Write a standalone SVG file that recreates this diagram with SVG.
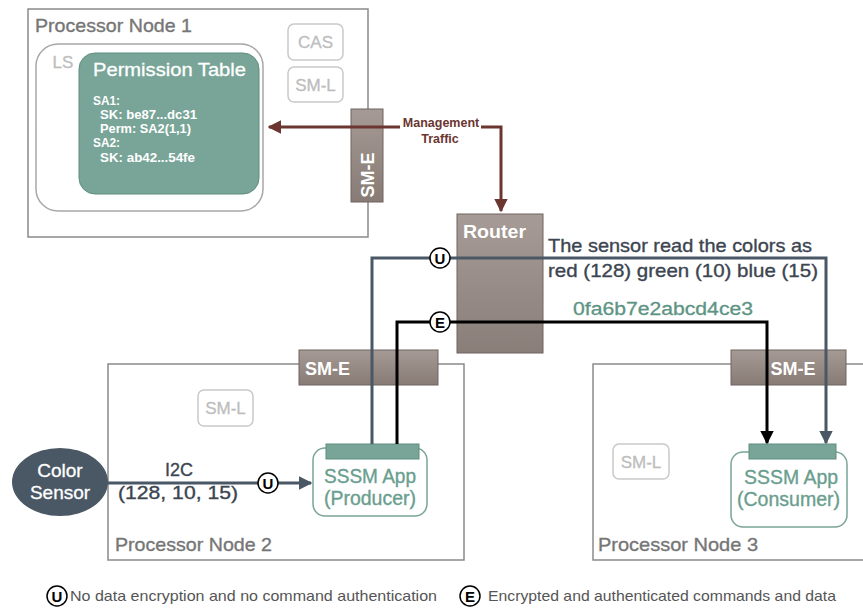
<svg xmlns="http://www.w3.org/2000/svg" width="863" height="609" viewBox="0 0 863 609">
<defs>
<style>
text{font-family:"Liberation Sans","Open Sans",Arial,sans-serif}
.node{fill:#fff;stroke:#8a8a8a;stroke-width:1.5}
.ntitle{font-size:19px;fill:#767676;stroke:#767676;stroke-width:0.35}
.ghost{fill:#fff;stroke:#c9c9c9;stroke-width:1.5}
.gtext{font-size:17px;fill:#bdbdbd;text-anchor:middle;stroke:#bdbdbd;stroke-width:0.3}
.sme{fill:url(#gBrown);stroke:#6f6460;stroke-width:1}
.smetext{font-size:18px;fill:#fff;font-weight:bold}
.app{fill:#fff;stroke:#7aa597;stroke-width:1.5}
.bar{fill:#78a598;stroke:#5f8d7f;stroke-width:1}
.apptext{font-size:20px;fill:#6a9e8e;stroke:#6a9e8e;stroke-width:0.35}
.uline{fill:none;stroke:#4a5765;stroke-width:3}
.eline{fill:none;stroke:#000;stroke-width:3}
.mline{fill:none;stroke:#6b3630;stroke-width:3}
.badge{fill:#fff;stroke:#000;stroke-width:1.5}
.btext{font-size:15px;font-weight:bold;fill:#000;text-anchor:middle}
.pt{font-size:12.5px;font-weight:bold;fill:#fff}
.dark{font-size:19px;fill:#3c4550;stroke:#3c4550;stroke-width:0.35}
.leg{font-size:15px;fill:#555}
</style>
<linearGradient id="gBrown" x1="0" y1="0" x2="0" y2="1">
<stop offset="0" stop-color="#a59a95"/>
<stop offset="1" stop-color="#887b75"/>
</linearGradient>
<linearGradient id="gRouter" x1="0" y1="0" x2="0" y2="1">
<stop offset="0" stop-color="#a69b96"/>
<stop offset="1" stop-color="#8a7e79"/>
</linearGradient>
<marker id="aU" viewBox="0 0 10 10" refX="9" refY="5" markerWidth="4.5" markerHeight="4.5" orient="auto" markerUnits="strokeWidth">
<path d="M0,0 L10,5 L0,10 Z" fill="#4a5765"/>
</marker>
<marker id="aE" viewBox="0 0 10 10" refX="9" refY="5" markerWidth="4.5" markerHeight="4.5" orient="auto" markerUnits="strokeWidth">
<path d="M0,0 L10,5 L0,10 Z" fill="#000"/>
</marker>
<marker id="aM" viewBox="0 0 10 10" refX="9" refY="5" markerWidth="4.5" markerHeight="4.5" orient="auto" markerUnits="strokeWidth">
<path d="M0,0 L10,5 L0,10 Z" fill="#6b3630"/>
</marker>
</defs>

<g id="node1">
<rect class="node" x="28" y="9" width="340" height="228"/>
<text class="ntitle" x="35" y="32" textLength="157" lengthAdjust="spacingAndGlyphs">Processor Node 1</text>
<rect x="36" y="44" width="227" height="167" rx="22" fill="#fff" stroke="#a8a8a8" stroke-width="1.5"/>
<text class="gtext" x="63" y="68">LS</text>
<g id="permission-table">
<rect x="79" y="53" width="180" height="141" rx="16" fill="#78a598" stroke="#5f8d7f" stroke-width="1"/>
<text x="93" y="76" font-size="19" fill="#fff" stroke="#fff" stroke-width="0.3" textLength="153" lengthAdjust="spacingAndGlyphs">Permission Table</text>
<text class="pt" x="93" y="105" textLength="27" lengthAdjust="spacingAndGlyphs">SA1:</text>
<text class="pt" x="100" y="119" textLength="97" lengthAdjust="spacingAndGlyphs">SK: be87...dc31</text>
<text class="pt" x="100" y="133" textLength="91" lengthAdjust="spacingAndGlyphs">Perm: SA2(1,1)</text>
<text class="pt" x="93" y="147" textLength="27" lengthAdjust="spacingAndGlyphs">SA2:</text>
<text class="pt" x="100" y="162" textLength="95" lengthAdjust="spacingAndGlyphs">SK: ab42...54fe</text>
</g>
<g id="cas">
<rect class="ghost" x="288" y="24" width="55" height="36" rx="6"/>
<text class="gtext" x="315.5" y="48">CAS</text>
</g>
<g id="sml1">
<rect class="ghost" x="288" y="67" width="55" height="35" rx="6"/>
<text class="gtext" x="315.5" y="91">SM-L</text>
</g>
<g id="sme1">
<rect x="351" y="109" width="32" height="93" fill="url(#gBrown)" stroke="#6f6460" stroke-width="1"/>
<text class="smetext" transform="translate(374,175) rotate(-90)" text-anchor="middle">SM-E</text>
</g>
</g>

<g id="router">
<rect x="457" y="214" width="86" height="139" fill="url(#gRouter)" stroke="#6f6460" stroke-width="1"/>
<text x="463" y="238" font-size="18" font-weight="bold" fill="#fff" textLength="63" lengthAdjust="spacingAndGlyphs">Router</text>
</g>

<g id="node2">
<rect class="node" x="108" y="364" width="356" height="196"/>
<text class="ntitle" x="115" y="551" textLength="157" lengthAdjust="spacingAndGlyphs">Processor Node 2</text>
<g id="sml2">
<rect class="ghost" x="198" y="390" width="55" height="36" rx="6"/>
<text class="gtext" x="225.5" y="414">SM-L</text>
</g>
<g id="sme2">
<rect class="sme" x="299" y="350" width="139" height="35"/>
<text class="smetext" x="305" y="375">SM-E</text>
</g>
<g id="producer">
<rect class="app" x="313" y="448" width="114" height="68" rx="12"/>
<rect class="bar" x="326" y="444" width="93" height="15"/>
<text class="apptext" x="324" y="483" textLength="92" lengthAdjust="spacingAndGlyphs">SSSM App</text>
<text class="apptext" x="324" y="505" textLength="92" lengthAdjust="spacingAndGlyphs">(Producer)</text>
</g>
</g>

<g id="node3">
<rect class="node" x="593" y="364" width="280" height="196"/>
<text class="ntitle" x="598" y="551" textLength="160" lengthAdjust="spacingAndGlyphs">Processor Node 3</text>
<g id="sml3">
<rect class="ghost" x="613" y="444" width="56" height="35" rx="6"/>
<text class="gtext" x="641" y="468">SM-L</text>
</g>
<g id="sme3">
<rect class="sme" x="731" y="350" width="115" height="35"/>
<text class="smetext" x="793" y="375" text-anchor="middle">SM-E</text>
</g>
<g id="consumer">
<rect class="app" x="731" y="452" width="116" height="75" rx="12"/>
<rect class="bar" x="749" y="444" width="87" height="15"/>
<text class="apptext" x="744" y="484" textLength="94" lengthAdjust="spacingAndGlyphs">SSSM App</text>
<text class="apptext" x="737" y="506" textLength="103" lengthAdjust="spacingAndGlyphs">(Consumer)</text>
</g>
</g>

<g id="color-sensor">
<ellipse cx="60" cy="482" rx="48" ry="34" fill="#4a5866"/>
<text x="60" y="477" font-size="19" fill="#fff" stroke="#fff" stroke-width="0.3" text-anchor="middle">Color</text>
<text x="60" y="499" font-size="19" fill="#fff" stroke="#fff" stroke-width="0.3" text-anchor="middle">Sensor</text>
</g>

<g id="connectors">
<path class="mline" d="M400,127 H269" marker-end="url(#aM)"/>
<path class="mline" d="M481,127 H501 V211" marker-end="url(#aM)"/>
<text x="441" y="127" font-size="12.5" font-weight="bold" fill="#6b3630" text-anchor="middle">Management</text>
<text x="440" y="143" font-size="12.5" font-weight="bold" fill="#6b3630" text-anchor="middle">Traffic</text>

<path class="uline" d="M372,444 V258 H826 V443" marker-end="url(#aU)"/>
<path class="eline" d="M397,444 V322 H767 V443" marker-end="url(#aE)"/>
<path class="uline" d="M107,483 H311" marker-end="url(#aU)"/>

<circle class="badge" cx="440" cy="258" r="10"/>
<text class="btext" x="440" y="263.5">U</text>
<circle class="badge" cx="440" cy="322" r="10"/>
<text class="btext" x="440" y="327.5">E</text>
<circle class="badge" cx="268" cy="483" r="10"/>
<text class="btext" x="268" y="488.5">U</text>

<text class="dark" x="165" y="476" fill="#3e4c5a" textLength="28" lengthAdjust="spacingAndGlyphs">I2C</text>
<text class="dark" x="118" y="499" textLength="120" lengthAdjust="spacingAndGlyphs">(128, 10, 15)</text>
<text class="dark" x="548" y="252" textLength="264" lengthAdjust="spacingAndGlyphs">The sensor read the colors as</text>
<text class="dark" x="548" y="277" textLength="270" lengthAdjust="spacingAndGlyphs">red (128) green (10) blue (15)</text>
<text x="573" y="315" font-size="18" fill="#5e9484" stroke="#5e9484" stroke-width="0.3" textLength="180" lengthAdjust="spacingAndGlyphs">0fa6b7e2abcd4ce3</text>
</g>

<g id="legend">
<circle class="badge" cx="57" cy="596" r="10"/>
<text class="btext" x="57" y="601.5">U</text>
<text class="leg" x="70" y="601" textLength="367" lengthAdjust="spacingAndGlyphs">No data encryption and no command authentication</text>
<circle class="badge" cx="470" cy="596" r="10"/>
<text class="btext" x="470" y="601.5">E</text>
<text class="leg" x="488" y="601" textLength="348" lengthAdjust="spacingAndGlyphs">Encrypted and authenticated commands and data</text>
</g>
</svg>
